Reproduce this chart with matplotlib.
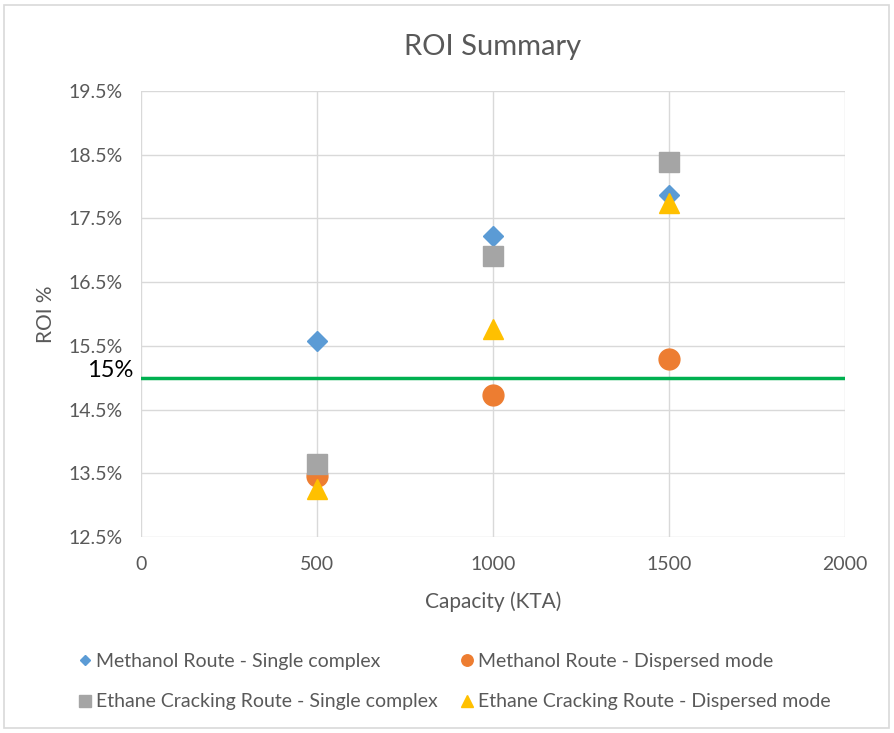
import matplotlib.pyplot as plt
from matplotlib.patches import Rectangle
from matplotlib.ticker import FuncFormatter
import matplotlib.transforms as mtransforms

plt.rcParams['font.family'] = ['Lato', 'DejaVu Sans']

capacity = [500, 1000, 1500]
methanol_single = [15.57, 17.23, 17.86]
methanol_dispersed = [13.45, 14.73, 15.30]
ethane_single = [13.64, 16.91, 18.39]
ethane_dispersed = [13.25, 15.77, 17.74]
target_roi = 15.0

labels = ["Methanol Route - Single complex", "Methanol Route - Dispersed mode",
          "Ethane Cracking Route - Single complex", "Ethane Cracking Route - Dispersed mode"]

grey = "#595959"

fig = plt.figure(figsize=(8.94, 7.33), dpi=100)
ax = fig.add_axes([0.1577, 0.2674, 0.7875, 0.6085])

# outer chart frame
fig.patches.append(Rectangle((4 / 894, 5 / 733), 885 / 894, 723 / 733, transform=fig.transFigure,
                             fill=False, edgecolor="#d9d9d9", linewidth=1.2))

h1, = ax.plot(capacity, methanol_single, "D", color="#5B9BD5", markersize=10, linestyle="none")
h2, = ax.plot(capacity, methanol_dispersed, "o", color="#ED7D31", markersize=15, linestyle="none")
h3, = ax.plot(capacity, ethane_single, "s", color="#A5A5A5", markersize=15, linestyle="none")
h4, = ax.plot(capacity, ethane_dispersed, "^", color="#FFC000", markersize=14.5, linestyle="none")

ax.axhline(target_roi, color="#00B050", linewidth=2.5, zorder=1)
trans = mtransforms.blended_transform_factory(ax.transAxes, ax.transData)
ax.text(-0.011, target_roi + 0.11, "15%", transform=trans, ha="right", va="center",
        fontsize=17, color="black")

ax.set_xlim(0, 2000)
ax.set_ylim(12.5, 19.5)
ax.set_xticks([0, 500, 1000, 1500, 2000])
ax.set_yticks([12.5, 13.5, 14.5, 15.5, 16.5, 17.5, 18.5, 19.5])
ax.yaxis.set_major_formatter(FuncFormatter(lambda v, p: f"{v:.1f}%"))
ax.grid(True, color="#d9d9d9", linewidth=1)
ax.set_axisbelow(True)
for s in ax.spines.values():
    s.set_visible(False)
ax.tick_params(length=0, labelsize=14, labelcolor=grey)
ax.tick_params(axis="x", pad=14)
ax.tick_params(axis="y", pad=13)

ax.set_xlabel("Capacity (KTA)", fontsize=15, color=grey, labelpad=13)
ax.set_ylabel("ROI %", fontsize=15, color=grey, labelpad=9)
ax.set_title("ROI Summary", fontsize=21, color=grey, pad=26)

# row-major legend: methanol routes on the first row, ethane routes on the second
leg = fig.legend([h1, h3, h2, h4], [labels[0], labels[2], labels[1], labels[3]], ncol=2,
                 loc="upper left", bbox_to_anchor=(80 / 894, 1 - 653 / 733),
                 frameon=False, fontsize=14, markerscale=0.55, handlelength=0.5, handletextpad=0.3,
                 columnspacing=1.3, labelspacing=1.2, borderpad=0, borderaxespad=0)
for t in leg.get_texts():
    t.set_color(grey)

plt.savefig("out.png")
plt.close(fig)
